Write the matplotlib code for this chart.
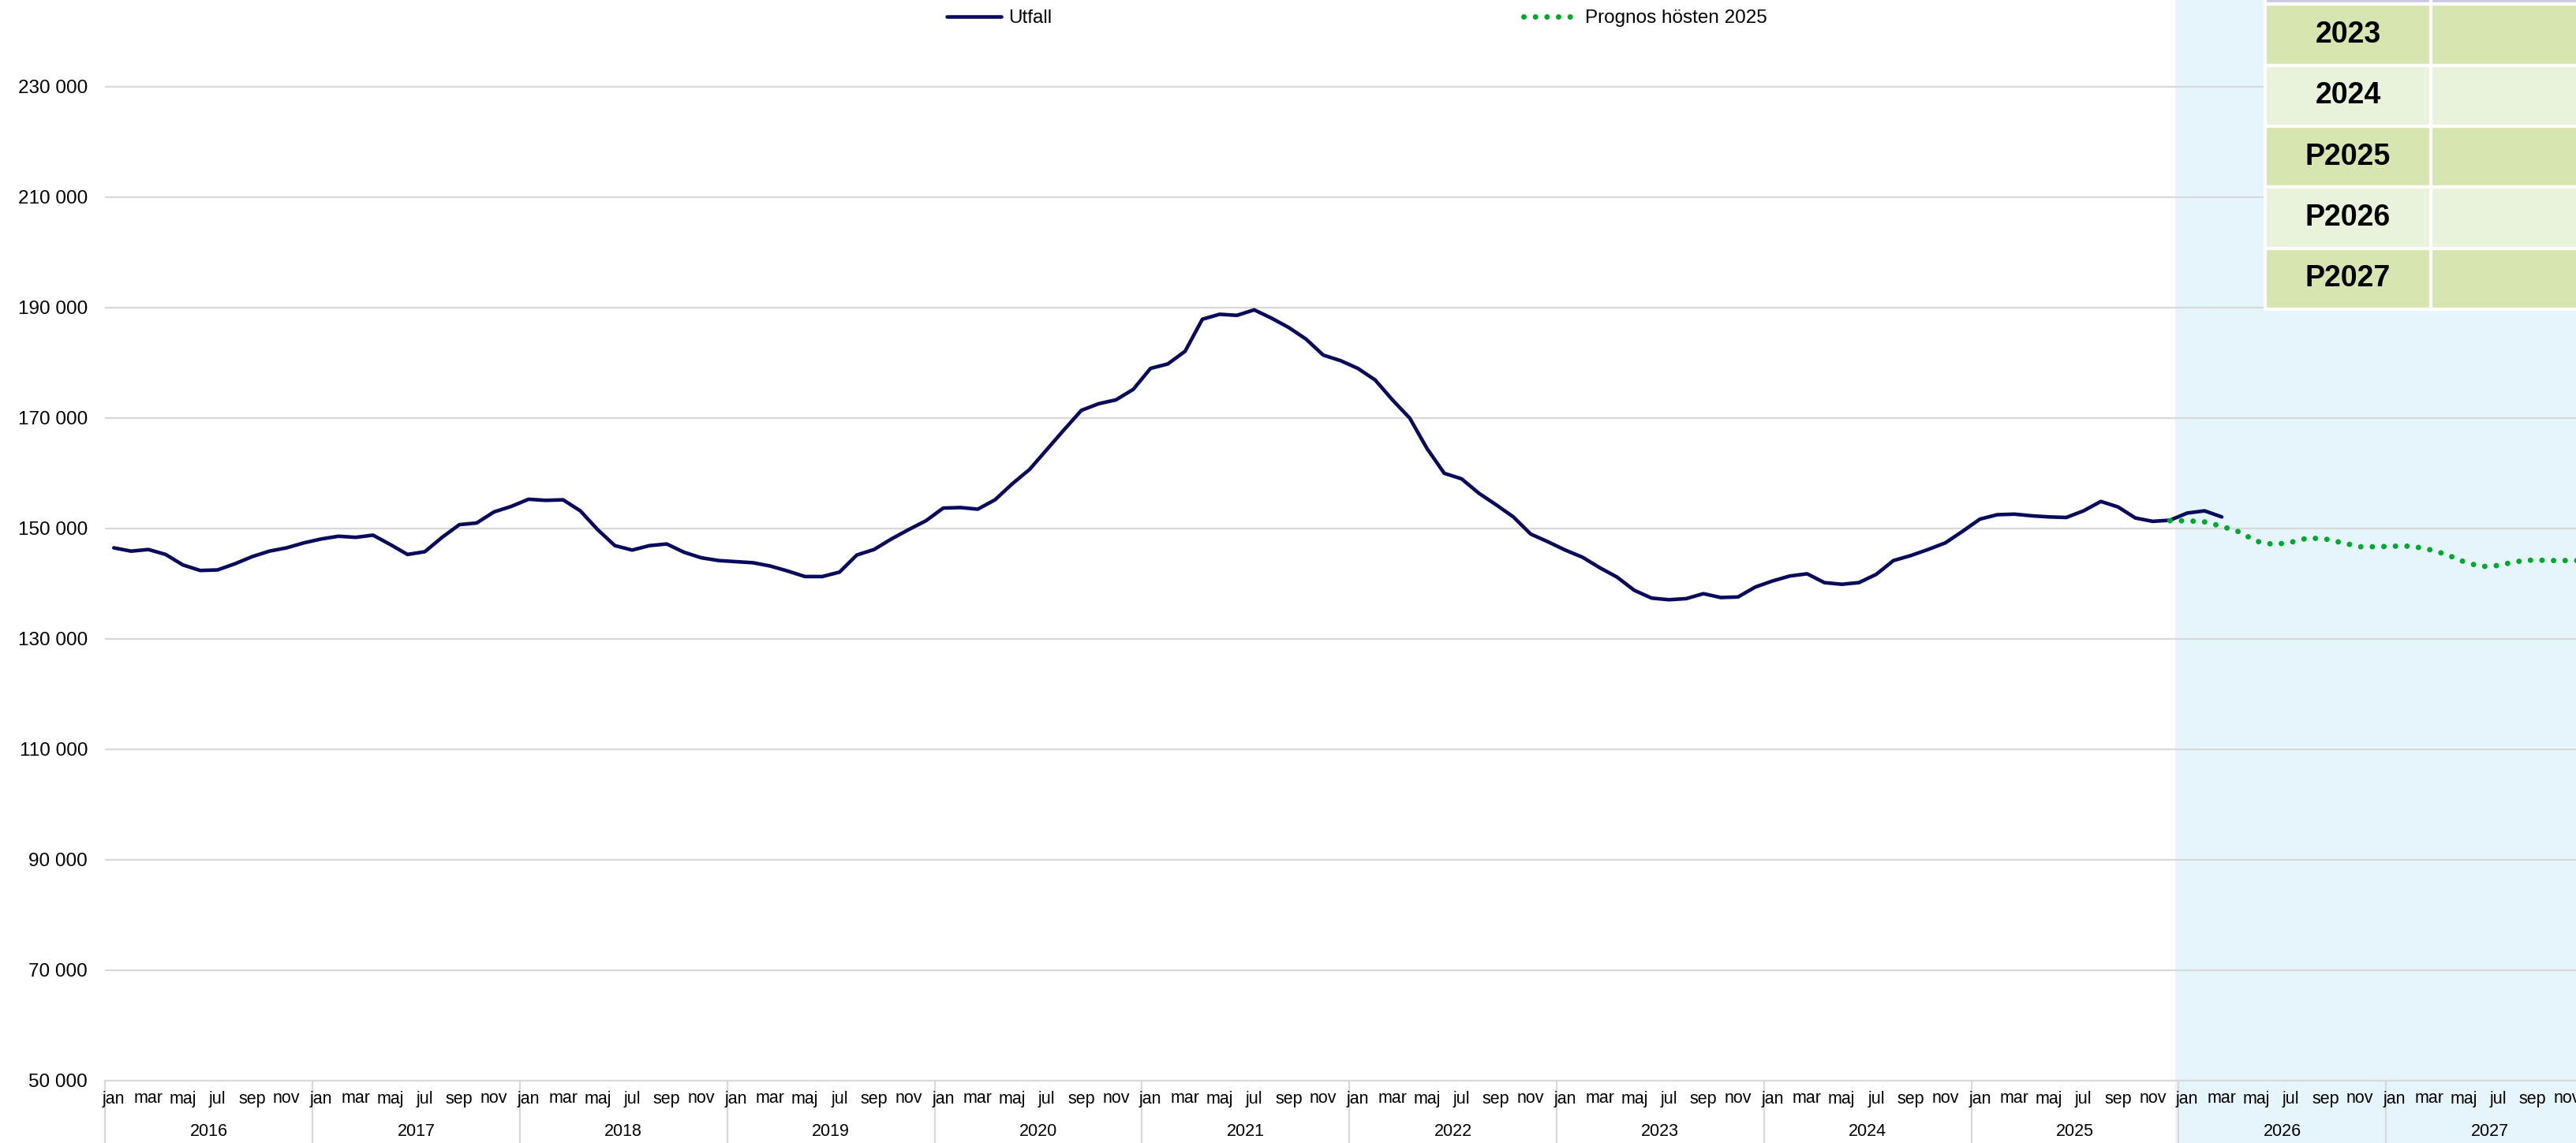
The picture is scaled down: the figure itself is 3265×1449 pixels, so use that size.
import numpy as np
import matplotlib
matplotlib.use("Agg")
import matplotlib.pyplot as plt
from matplotlib.patches import Rectangle
from matplotlib.transforms import blended_transform_factory
from matplotlib.ticker import FuncFormatter

plt.rcParams['font.family'] = ['Liberation Sans', 'DejaVu Sans']

# %%
# Data, monthly values from jan 2016
years = list(range(2016, 2028))
month_names = ['jan', 'feb', 'mar', 'apr', 'maj', 'jun', 'jul', 'aug', 'sep', 'okt', 'nov', 'dec']

utfall = [
    146500, 145900, 146200, 145300, 143400, 142400, 142500, 143600, 144900, 145900, 146500, 147400,  # 2016
    148100, 148600, 148400, 148800, 147100, 145300, 145800, 148400, 150700, 151000, 153000, 154000,  # 2017
    155300, 155100, 155200, 153200, 149800, 146900, 146100, 146900, 147200, 145700, 144700, 144200,  # 2018
    144000, 143800, 143200, 142300, 141300, 141300, 142100, 145200, 146200, 148100, 149800, 151400,  # 2019
    153700, 153800, 153500, 155200, 158100, 160700, 164300, 167900, 171400, 172600, 173300, 175200,  # 2020
    179000, 179800, 182100, 187900, 188800, 188600, 189600, 188100, 186400, 184300, 181400, 180400,  # 2021
    179000, 176900, 173300, 170000, 164500, 160000, 159000, 156400, 154300, 152100, 149000, 147600,  # 2022
    146100, 144800, 142900, 141200, 138800, 137400, 137100, 137300, 138200, 137500, 137600, 139400,  # 2023
    140500, 141400, 141800, 140200, 139900, 140200, 141700, 144200, 145100, 146200, 147400, 149500,  # 2024
    151700, 152500, 152600, 152300, 152100, 152000, 153200, 154900, 153900, 151900, 151300, 151500,  # 2025
    152800, 153200, 152100,                                                                          # 2026
]

# forecast starts dec 2025
prognos_start = 119
prognos = [
    151400,
    151400, 151200, 150400, 149400, 147700, 147100, 147500, 148300, 148100, 147400, 146700, 146700,  # 2026
    146800, 146800, 146200, 145300, 144000, 143100, 143300, 144000, 144300, 144200, 144200, 144200,  # 2027
]

table_rows = ['2023', '2024', 'P2025', 'P2026', 'P2027']

# %%
W, H = 3265, 1449
fig = plt.figure(figsize=(W / 100, H / 100), dpi=100)

ax_left, ax_right = 133.3, 133.3 + 262.8 * 12
ax_bottom, ax_top = 1370, 7
ax = fig.add_axes([ax_left / W, 1 - ax_bottom / H, (ax_right - ax_left) / W, (ax_bottom - ax_top) / H])
ax.set_facecolor('none')

n_months = 12 * len(years)
ax.set_xlim(-0.5, n_months - 0.5)
ax.set_ylim(50000, 50000 + (ax_bottom - ax_top) / 7.0 * 1000)

# shaded forecast period (goes down over the tick labels)
blend = blended_transform_factory(ax.transData, ax.transAxes)
shade_x = 12 * (2026 - years[0]) - 0.7
ax.add_patch(Rectangle((shade_x, -0.1), n_months - shade_x + 2, 1.2, transform=blend,
                       facecolor='#E6F5FB', edgecolor='none', clip_on=False, zorder=0))

l1, = ax.plot(np.arange(len(utfall)), utfall, color='#0A0A5C', lw=3.3,
              solid_joinstyle='round', solid_capstyle='round', zorder=3, label='Utfall')
l2, = ax.plot(np.arange(prognos_start, prognos_start + len(prognos)), prognos,
              color='#00A82D', lw=5, linestyle=(0, (0.01, 2.1)), dash_capstyle='round',
              zorder=4, label='Prognos hösten 2025')

# y axis
ax.set_yticks(np.arange(50000, 230001, 20000))
ax.yaxis.set_major_formatter(FuncFormatter(lambda v, p: f'{int(v):,}'.replace(',', ' ')))
ax.grid(axis='y', color='#D9D9D9', lw=1.6)
ax.set_axisbelow(True)
ax.tick_params(axis='y', length=0, pad=16, labelsize=17.5)

# x axis: every other month, year labels below
ticks = np.arange(0, n_months, 2)
ax.set_xticks(ticks)
ax.set_xticklabels([month_names[t % 12] for t in ticks])
ax.tick_params(axis='x', length=0, pad=9, labelsize=15.5)
for s in ['top', 'right', 'left']:
    ax.spines[s].set_visible(False)
ax.spines['bottom'].set_color('#D9D9D9')
ax.spines['bottom'].set_linewidth(1.6)

px = 1.0 / (ax_bottom - ax_top)
for i, yr in enumerate(years):
    ax.text(12 * i + 5.5, -64 * px, str(yr), transform=blend, ha='center', va='center', fontsize=15.5)
ax.vlines(np.arange(0, n_months + 1, 12) - 0.5, -80 * px, 0, transform=blend,
          colors='#D9D9D9', lw=1.6, clip_on=False, zorder=0.2)

# legend
fig.legend(handles=[l1, l2], loc='center', bbox_to_anchor=(1720 / W, 1 - 23 / H), ncol=2,
           frameon=False, fontsize=17.5, handlelength=2.84, handletextpad=0.37, columnspacing=24.6)

# table at top right (clipped by the figure edge)
t_left, t_top, t_bottom = 2871, -72, 392
tax = fig.add_axes([t_left / W, 1 - t_bottom / H, 650 / W, (t_bottom - t_top) / H])
tax.axis('off')
colors = ['#CCC8E4'] + ['#D7E5B0' if i % 2 == 0 else '#E9F2DA' for i in range(len(table_rows))]
cell_text = [['', '']] + [[r, ''] for r in table_rows]
tab = tax.table(cellText=cell_text, cellColours=[[c, c] for c in colors],
                colWidths=[210 / 650, 440 / 650], cellLoc='center', bbox=[0, 0, 1, 1])
tab.auto_set_font_size(False)
for (r, c), cell in tab.get_celld().items():
    cell.set_edgecolor('white')
    cell.set_linewidth(3)
    cell.get_text().set_fontsize(27)
    cell.get_text().set_fontweight('bold')

fig.savefig('out.png', dpi=100)
